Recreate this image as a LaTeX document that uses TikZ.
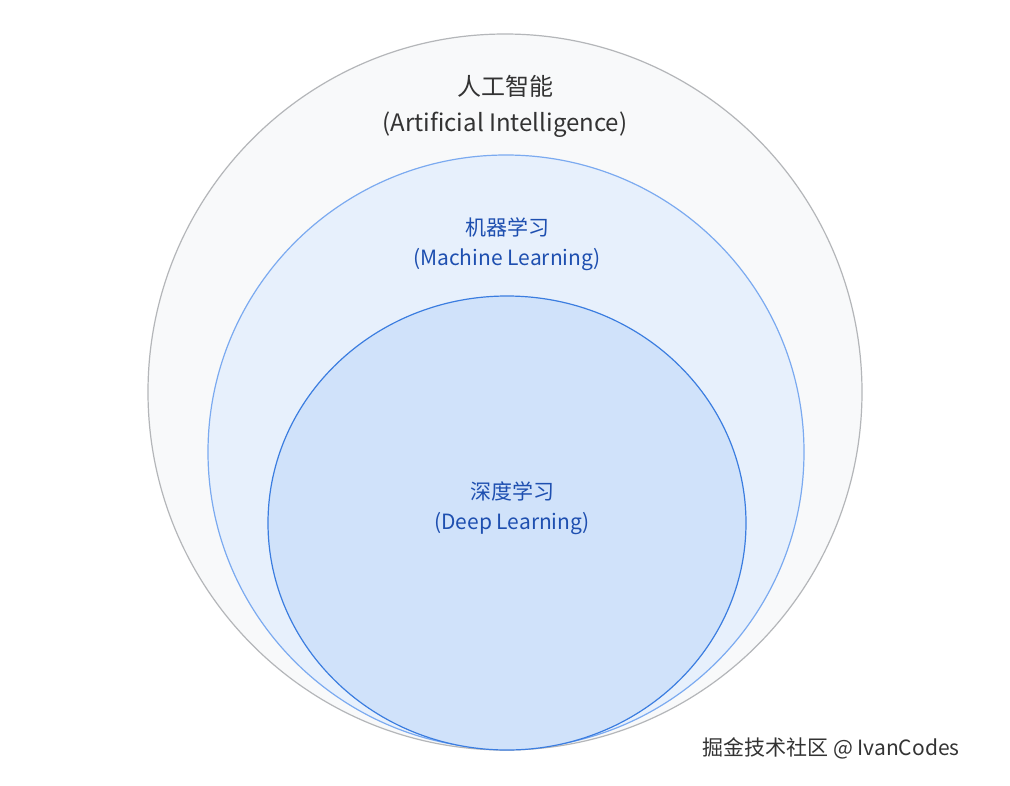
\documentclass[tikz,border=0pt]{standalone}
\usepackage{fontspec}
\setmainfont{Noto Sans CJK SC}
\definecolor{aifill}{HTML}{F8F9FA}
\definecolor{aistroke}{HTML}{B4B6B9}
\definecolor{mlfill}{HTML}{E7F0FC}
\definecolor{mlstroke}{HTML}{7BAAF0}
\definecolor{dlfill}{HTML}{D0E2FA}
\definecolor{dlstroke}{HTML}{3B7DE0}
\definecolor{aitext}{HTML}{333333}
\definecolor{bluetext}{HTML}{1E4FB0}
\tikzset{lbl/.style={align=center,font=\fontsize{21}{30}\selectfont}}
\begin{document}
\begin{tikzpicture}[x=1pt,y=-1pt]
\useasboundingbox (0,0) rectangle (1010,785);
\fill[white] (0,0) rectangle (1010,785);
\draw[aistroke,fill=aifill,line width=1.2pt] (505,392) ellipse [x radius=357,y radius=358];
\draw[mlstroke,fill=mlfill,line width=1.2pt] (506,452) ellipse [x radius=298,y radius=297];
\draw[dlstroke,fill=dlfill,line width=1.2pt] (507,523) ellipse [x radius=239,y radius=227];
\node[lbl,text=aitext,font=\fontsize{24}{36}\selectfont] (ai) at (505,106) {人工智能\\(Artificial Intelligence)};
\node[lbl,text=bluetext] (ml) at (507,244) {机器学习\\(Machine Learning)};
\node[lbl,text=bluetext] (dl) at (512,508) {深度学习\\(Deep Learning)};
\node[text=aitext,font=\fontsize{21}{26}\selectfont] (wm) at (831,748) {掘金技术社区 @ IvanCodes};
\end{tikzpicture}
\end{document}
